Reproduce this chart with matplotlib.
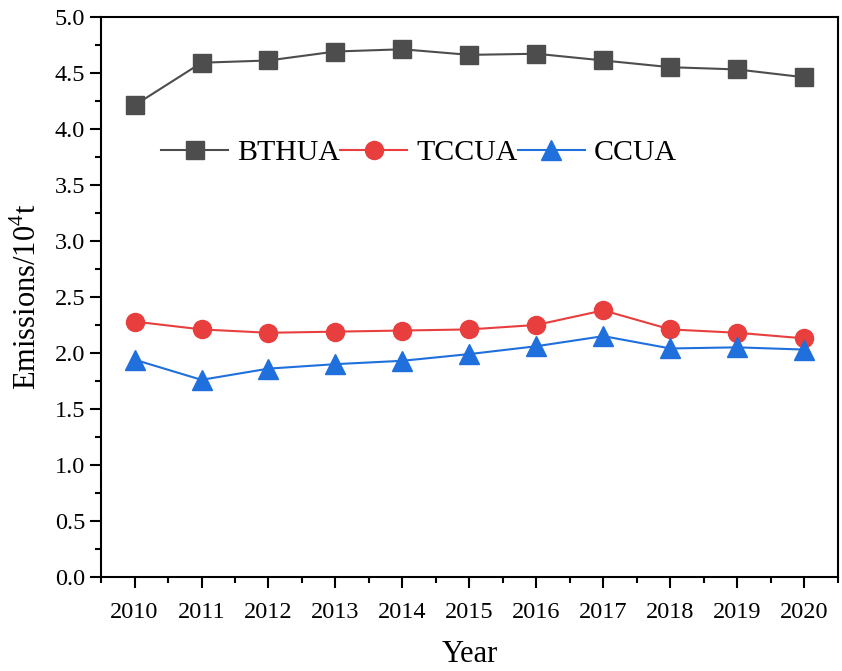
import numpy as np
import matplotlib.pyplot as plt

plt.rcParams['font.family'] = ['Liberation Serif', 'DejaVu Serif']
plt.rcParams['mathtext.fontset'] = 'custom'
plt.rcParams['mathtext.rm'] = 'Liberation Serif'

years = np.arange(2010, 2021)
bthua = [4.21, 4.59, 4.61, 4.69, 4.71, 4.66, 4.67, 4.61, 4.55, 4.53, 4.46]
tccua = [2.28, 2.21, 2.18, 2.19, 2.20, 2.21, 2.25, 2.38, 2.21, 2.18, 2.13]
ccua = [1.94, 1.76, 1.86, 1.90, 1.93, 1.99, 2.06, 2.15, 2.04, 2.05, 2.03]

fig = plt.figure(figsize=(8.42, 6.71), dpi=100)
ax = fig.add_axes([0.12, 0.14, 0.875, 0.835])

ax.plot(years, bthua, color='#4d4d4d', marker='s', markersize=12.5, linewidth=1.5, label='BTHUA')
ax.plot(years, tccua, color='#e83e3e', marker='o', markersize=13, linewidth=1.5, label='TCCUA')
ax.plot(years, ccua, color='#1f6fdc', marker='^', markersize=14, linewidth=1.5, label='CCUA')

ax.set_xlim(2009.5, 2020.5)
ax.set_ylim(0, 5.0)
ax.set_xticks(years)
ax.set_xticks(np.arange(2009.5, 2021, 1), minor=True)
ax.set_yticks(np.arange(0, 5.01, 0.5))
ax.set_yticks(np.arange(0.25, 5.0, 0.5), minor=True)
ax.set_yticklabels([f'{v:.1f}' for v in np.arange(0, 5.01, 0.5)])

ax.tick_params(axis='both', which='major', direction='out', length=8, width=1.5, labelsize=17.5)
ax.tick_params(axis='both', which='minor', direction='out', length=4, width=1.5)
ax.tick_params(axis='x', pad=10)
for s in ax.spines.values():
    s.set_linewidth(1.5)

ax.set_xlabel('Year', fontsize=22, labelpad=12)
ax.set_ylabel('Emissions/10$^4$t', fontsize=22, labelpad=8)

ax.legend(loc='upper left', bbox_to_anchor=(0.045, 0.829), ncol=3, frameon=False,
          fontsize=21.5, handlelength=2.25, columnspacing=0.0, handletextpad=0.3)

plt.savefig('out.png', dpi=100)
